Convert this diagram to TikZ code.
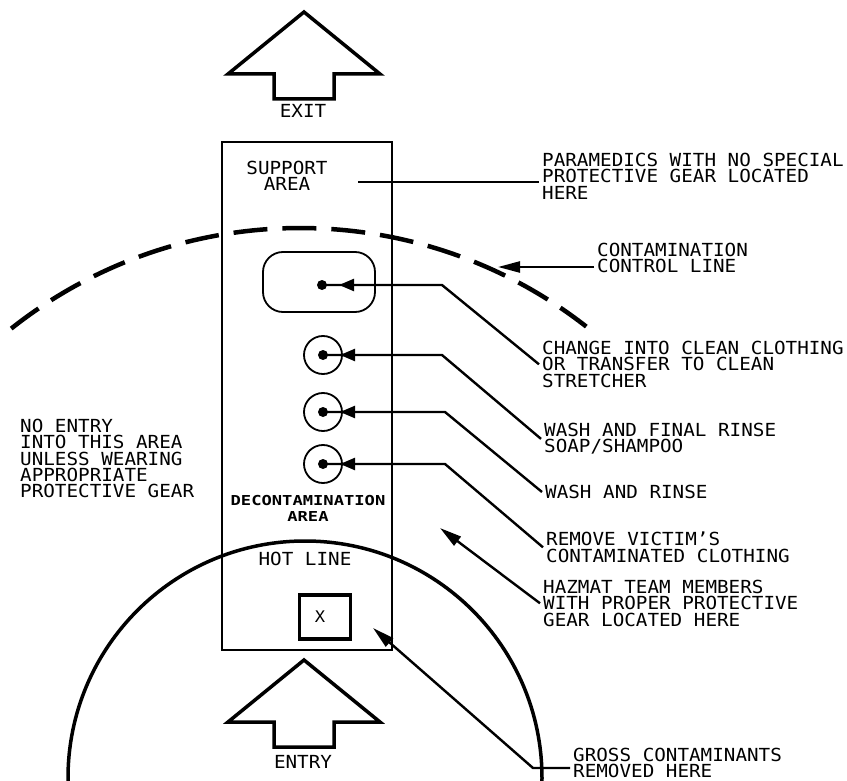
\documentclass[tikz,border=0pt]{standalone}
\usepackage{fontspec}
\newfontfamily\cadfont{DejaVu Sans Mono}[FakeStretch=1.07]
\newfontfamily\cadbold{DejaVu Sans Mono Bold}[FakeStretch=1.25]
\usetikzlibrary{arrows.meta,positioning}

\begin{document}
\begin{tikzpicture}[
  x=1pt, y=-1pt,
  note/.style={anchor=north west, inner sep=3pt, align=left,
               font=\cadfont\fontsize{18}{16.3}\selectfont},
  tag/.style={inner sep=0pt, align=center, font=\cadfont\fontsize{18}{16.3}\selectfont},
  strip/.style={draw, line width=2.3pt, minimum width=170pt, minimum height=508pt},
  stage/.style={draw, circle, line width=1.8pt, minimum size=38pt, inner sep=0pt},
  spot/.style={circle, fill, minimum size=10pt, inner sep=0pt},
  leader/.style={line width=2.4pt},
  dottip/.style={line width=2.4pt, -{Triangle[length=15pt,width=12pt]}},
  pointer/.style={line width=2.4pt, -{Triangle[length=22pt,width=11pt]}},
  blockarrow/.style={line width=3.5pt, line join=miter},
  boundary/.style={line width=3.5pt}
]
\useasboundingbox (0,0) rectangle (847,781);
\clip (0,0) rectangle (847,781);

% exit / entry arrows
\foreach \ty in {12,660}
  \draw[blockarrow] (304,\ty) -- ++(76,62) -- ++(-46,0) -- ++(0,25) -- ++(-60,0)
    -- ++(0,-25) -- ++(-46,0) -- cycle;
\node[tag] (exit)  at (303,111) {EXIT};
\node[tag] (entry) at (303,762) {ENTRY};

% zone strip
\node[strip] (zone) at (307,396) {};
\node[tag] (support) at (287,176) {SUPPORT\\AREA};
\node[tag, font=\cadbold\fontsize{13.7}{16}\selectfont] (decon) at (308,508) {DECONTAMINATION\\AREA};
\node[tag] (hotline) at (305,559) {HOT LINE};

% stations
\node[draw, line width=1.8pt, rounded corners=20pt, minimum width=112pt,
      minimum height=60pt] (change) at (319,282) {};
\node[stage] (final) at (323,355) {};
\node[stage] (rinse) at (323,412) {};
\node[stage] (remove) at (323,464) {};
\node[spot] (s1) at (322,285) {};
\node[spot] (s2) at (323,355) {};
\node[spot] (s3) at (323,412) {};
\node[spot] (s4) at (323,464) {};
\node[draw, line width=3.2pt, minimum width=51pt, minimum height=44pt] (gross) at (325,617) {};
\node[tag, font=\cadfont\fontsize{16}{16}\selectfont] (xmark) at ([xshift=-5pt]gross.center) {X};

% hot line and contamination control line
\draw[boundary] (305,778) circle[radius=237];
\draw[boundary, line width=4.5pt, dash pattern=on 34pt off 15pt]
  ([shift={(231.6:465)}]300,693) arc[start angle=231.6, end angle=308, radius=465];

% notes
\node[note] (para) at (539,150) {PARAMEDICS WITH NO SPECIAL\\PROTECTIVE GEAR LOCATED\\HERE};
\node[note] (ctl)  at (594,240) {CONTAMINATION\\CONTROL LINE};
\node[note] (cng)  at (539,338) {CHANGE INTO CLEAN CLOTHING\\OR TRANSFER TO CLEAN\\STRETCHER};
\node[note] (fin)  at (541,420) {WASH AND FINAL RINSE\\SOAP/SHAMPOO};
\node[note] (rin)  at (542,482) {WASH AND RINSE};
\node[note] (rem)  at (543,529) {REMOVE VICTIM’S\\CONTAMINATED CLOTHING};
\node[note] (haz)  at (540,577) {HAZMAT TEAM MEMBERS\\WITH PROPER PROTECTIVE\\GEAR LOCATED HERE};
\node[note] (grs)  at (570,745) {GROSS CONTAMINANTS\\REMOVED HERE};
\node[note] (noentry) at (17,416) {NO ENTRY\\INTO THIS AREA\\UNLESS WEARING\\APPROPRIATE\\PROTECTIVE GEAR};

% leaders from the stations
\foreach \s/\t/\bx/\by in {s1/cng/442/285, s2/fin/442/355, s3/rin/445/412, s4/rem/445/464} {
  \coordinate (k) at (\bx,\by);
  \draw[leader] (\s.center) -- (k) -- (\t.west);
  \draw[dottip] (k) -- ([xshift=17pt]\s.center);
}

\coordinate (supp) at (358,182);
\draw[leader] (supp) -- (supp -| para.west);

\coordinate (ctltip) at (498,267);
\draw[pointer] (ctltip -| ctl.west) -- (ctltip);

\coordinate (hazmat) at (440,528);
\draw[pointer] (haz.west) -- (hazmat);

\coordinate (grosstip) at (373,628);
\coordinate (grossbend) at (533,768);
\draw[pointer] (grossbend -| grs.west) -- (grossbend) -- (grosstip);
\end{tikzpicture}
\end{document}
